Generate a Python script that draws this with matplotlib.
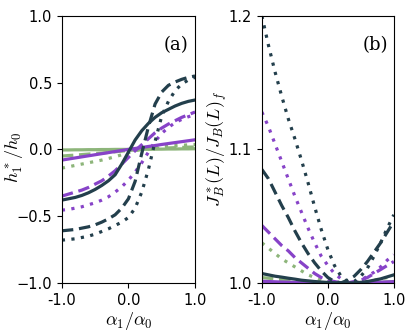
import matplotlib
matplotlib.use("Agg")
import matplotlib.pyplot as plt
import numpy as np

plt.rcParams['mathtext.fontset'] = 'cm'

alpha = [-1.0, -0.9, -0.8, -0.7, -0.6, -0.5, -0.4, -0.3, -0.2, -0.1, 0.0,
         0.1, 0.2, 0.3, 0.4, 0.5, 0.6, 0.7, 0.8, 0.9, 1.0]

# panel (a): h1*/h0
h_dark_solid = [-0.38, -0.37, -0.36, -0.345, -0.325, -0.30, -0.27, -0.235, -0.19, -0.11, -0.02,
                0.07, 0.14, 0.195, 0.24, 0.275, 0.30, 0.325, 0.345, 0.36, 0.37]
h_dark_dash = [-0.61, -0.605, -0.60, -0.59, -0.58, -0.565, -0.545, -0.52, -0.49, -0.44, -0.37,
               -0.24, -0.03, 0.17, 0.34, 0.43, 0.48, 0.505, 0.525, 0.54, 0.55]
h_dark_dot = [-0.68, -0.675, -0.67, -0.66, -0.65, -0.635, -0.615, -0.595, -0.57, -0.545, -0.51,
              -0.44, -0.32, -0.15, 0.06, 0.25, 0.36, 0.44, 0.49, 0.52, 0.54]
h_purp_solid = [-0.08, -0.072, -0.064, -0.056, -0.048, -0.04, -0.032, -0.024, -0.016, -0.008, 0.0,
                0.007, 0.014, 0.022, 0.029, 0.037, 0.044, 0.051, 0.058, 0.065, 0.072]
h_purp_dash = [-0.35, -0.335, -0.32, -0.305, -0.285, -0.26, -0.235, -0.20, -0.16, -0.11, -0.06,
               -0.01, 0.035, 0.08, 0.125, 0.16, 0.19, 0.215, 0.24, 0.26, 0.28]
h_purp_dot = [-0.455, -0.45, -0.44, -0.43, -0.415, -0.40, -0.38, -0.355, -0.32, -0.28, -0.23,
              -0.17, -0.10, -0.02, 0.06, 0.12, 0.165, 0.20, 0.225, 0.245, 0.26]
h_green_solid = [-0.004, -0.004, -0.003, -0.003, -0.002, -0.002, -0.001, -0.001, 0.0, 0.0, 0.0,
                 0.0, 0.001, 0.001, 0.002, 0.002, 0.003, 0.003, 0.004, 0.004, 0.005]
h_green_dash = [-0.05, -0.046, -0.043, -0.039, -0.035, -0.031, -0.027, -0.023, -0.018, -0.013, -0.008,
                -0.004, 0.0, 0.003, 0.006, 0.009, 0.011, 0.013, 0.015, 0.017, 0.018]
h_green_dot = [-0.14, -0.13, -0.12, -0.11, -0.10, -0.09, -0.08, -0.068, -0.055, -0.04, -0.025,
               -0.01, 0.0, 0.008, 0.015, 0.02, 0.025, 0.028, 0.031, 0.034, 0.036]

# panel (b): J_B*(L)/J_B(L)_f
j_dark_solid = [1.007, 1.006, 1.005, 1.0043, 1.0035, 1.0028, 1.002, 1.0015, 1.001, 1.0006, 1.0003,
                1.0001, 1.0, 1.0, 1.0, 1.0004, 1.001, 1.002, 1.003, 1.0045, 1.006]
j_dark_dash = [1.085, 1.078, 1.068, 1.058, 1.049, 1.039, 1.030, 1.022, 1.015, 1.009, 1.004,
               1.001, 1.0, 1.002, 1.005, 1.010, 1.016, 1.023, 1.030, 1.038, 1.046]
j_dark_dot = [1.200, 1.178, 1.158, 1.140, 1.123, 1.108, 1.092, 1.075, 1.057, 1.040, 1.025,
              1.013, 1.005, 1.001, 1.001, 1.005, 1.011, 1.020, 1.030, 1.041, 1.051]
j_purp_solid = [1.0012, 1.001, 1.0008, 1.0006, 1.0005, 1.0003, 1.0002, 1.0001, 1.0, 1.0, 1.0,
                1.0, 1.0, 1.0, 1.0, 1.0001, 1.0002, 1.0003, 1.0005, 1.0007, 1.0009]
j_purp_dash = [1.043, 1.038, 1.033, 1.028, 1.024, 1.019, 1.015, 1.011, 1.007, 1.004, 1.002,
               1.001, 1.0, 1.0, 1.001, 1.002, 1.004, 1.007, 1.010, 1.013, 1.016]
j_purp_dot = [1.128, 1.117, 1.104, 1.091, 1.078, 1.065, 1.053, 1.041, 1.030, 1.020, 1.013,
              1.007, 1.003, 1.0, 1.0, 1.002, 1.005, 1.008, 1.012, 1.017, 1.021]
j_green_solid = [1.0, 1.0, 1.0, 1.0, 1.0, 1.0, 1.0, 1.0, 1.0, 1.0, 1.0,
                 1.0, 1.0, 1.0, 1.0, 1.0, 1.0, 1.0, 1.0, 1.0, 1.0]
j_green_dash = [1.004, 1.0035, 1.003, 1.0025, 1.002, 1.0016, 1.0012, 1.0008, 1.0005, 1.0003, 1.0001,
                1.0, 1.0, 1.0, 1.0, 1.0001, 1.0002, 1.0003, 1.0005, 1.0007, 1.001]
j_green_dot = [1.030, 1.026, 1.022, 1.018, 1.015, 1.012, 1.009, 1.006, 1.004, 1.002, 1.001,
               1.0, 1.0, 1.0, 1.0, 1.001, 1.001, 1.002, 1.003, 1.004, 1.005]

xticks = [-1.0, 0.0, 1.0]
xticklabels = ['-1.0', '0.0', '1.0']

dark = '#233f4c'
purple = '#8743c8'
green = '#8db57a'

solid = '-'
dashed = (0, (3.6, 1.8))
dotted = (0, (1, 2.0))

fig = plt.figure(figsize=(4.15, 3.32), dpi=100)
ax1 = fig.add_axes([0.149, 0.148, 0.321, 0.804])
ax2 = fig.add_axes([0.631, 0.148, 0.318, 0.804])

lw = 2.3
series_a = [(h_green_solid, green, solid), (h_green_dash, green, dashed), (h_green_dot, green, dotted),
            (h_purp_solid, purple, solid), (h_purp_dash, purple, dashed), (h_purp_dot, purple, dotted),
            (h_dark_solid, dark, solid), (h_dark_dash, dark, dashed), (h_dark_dot, dark, dotted)]
series_b = [(j_green_solid, green, solid), (j_green_dash, green, dashed), (j_green_dot, green, dotted),
            (j_purp_solid, purple, solid), (j_purp_dash, purple, dashed), (j_purp_dot, purple, dotted),
            (j_dark_solid, dark, solid), (j_dark_dash, dark, dashed), (j_dark_dot, dark, dotted)]

for y, c, ls in series_a:
    ax1.plot(alpha, y, color=c, linestyle=ls, lw=lw)
for y, c, ls in series_b:
    ax2.plot(alpha, y, color=c, linestyle=ls, lw=lw)

ax1.set_xlim(-1, 1)
ax1.set_ylim(-1, 1)
ax1.set_yticks([-1.0, -0.5, 0.0, 0.5, 1.0])
ax2.set_xlim(-1, 1)
ax2.set_ylim(1.0, 1.2)
ax2.set_yticks([1.0, 1.1, 1.2])

for ax in (ax1, ax2):
    ax.set_xticks(xticks)
    ax.set_xticklabels(xticklabels)
    ax.tick_params(labelsize=10.5)
    ax.set_xlabel(r'$\alpha_1/\alpha_0$', fontsize=13, labelpad=2)

ax1.set_ylabel(r'$h_1^*/h_0$', fontsize=13)
ax1.yaxis.set_label_coords(-0.275, 0.47)
ax2.set_ylabel(r'$J_B^*(L)/J_B(L)_f$', fontsize=13, labelpad=0)

ax1.text(0.86, 0.89, '(a)', transform=ax1.transAxes, ha='center', va='center',
         fontsize=13, family='DejaVu Serif')
ax2.text(0.86, 0.89, '(b)', transform=ax2.transAxes, ha='center', va='center',
         fontsize=13, family='DejaVu Serif')

plt.savefig('out.png', dpi=100)
